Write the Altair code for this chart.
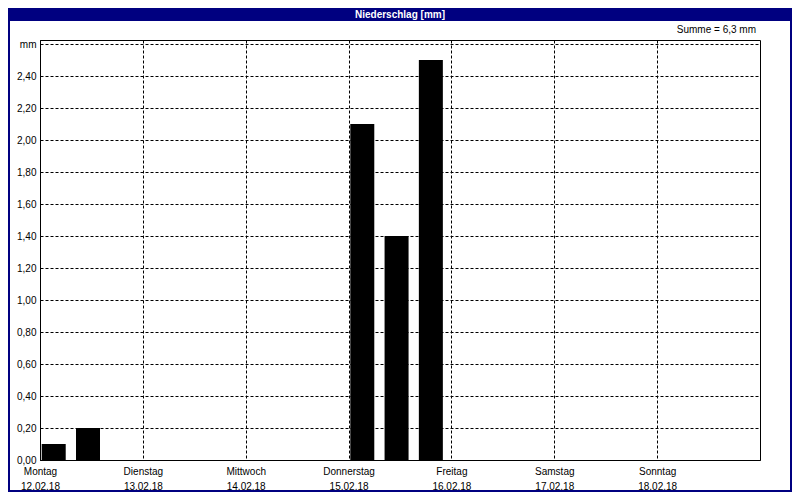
import json
import altair as alt
import pandas as pd

# ---- data ----
bin_start_hours = [0, 8, 72, 80, 88]
values = [0.1, 0.2, 2.1, 1.4, 2.5]
days = ["Montag", "Dienstag", "Mittwoch", "Donnerstag", "Freitag", "Samstag", "Sonntag"]
dates = ["12.02.18", "13.02.18", "14.02.18", "15.02.18", "16.02.18", "17.02.18", "18.02.18"]
y_ticks = [0.0, 0.2, 0.4, 0.6, 0.8, 1.0, 1.2, 1.4, 1.6, 1.8, 2.0, 2.2, 2.4, 2.6]
title_text = "Niederschlag [mm]"

total = sum(values)
summe_text = "Summe = " + f"{total:.1f}".replace(".", ",") + " mm"

df = pd.DataFrame({
    "start": [h + 0.4 for h in bin_start_hours],
    "end": [h + 6.0 for h in bin_start_hours],
    "value": values,
})

FONT = "Liberation Sans"
NAVY = "#000080"

x_ticks = [24 * i for i in range(len(days))]
label_expr_x = (
    "[" + json.dumps(days) + "[round(datum.value/24)], "
    + json.dumps(dates) + "[round(datum.value/24)]]"
)
label_expr_y = "datum.value > 2.55 ? 'mm' : replace(format(datum.value, '.2f'), '.', ',')"

x_scale = alt.Scale(domain=[0, 168], nice=False, zero=False)
y_scale = alt.Scale(domain=[0, 2.625], nice=False)

bars = alt.Chart(df).mark_rect(color="#000000").encode(
    x=alt.X("start:Q", scale=x_scale, axis=alt.Axis(
        values=x_ticks, labelExpr=label_expr_x, title=None, grid=True,
        gridDash=[3, 2], gridColor="#000000", gridOpacity=1, gridWidth=1,
        ticks=False, labelFlush=False, labelOverlap=False, labelPadding=6,
        labelLineHeight=15, labelFont=FONT, labelFontSize=10, labelColor="#000000",
        domainColor="#000000", domainWidth=1, labelBaseline="top",
    )),
    x2="end:Q",
    y=alt.Y("value:Q", scale=y_scale, axis=alt.Axis(
        values=y_ticks, labelExpr=label_expr_y, title=None, grid=True,
        gridDash=[3, 2], gridColor="#000000", gridOpacity=1, gridWidth=1,
        ticks=False, labelPadding=4, labelFont=FONT, labelFontSize=10,
        labelColor="#000000", domainColor="#000000", domainWidth=1,
        labelFlush=False, labelOverlap=False,
    )),
    y2=alt.datum(0),
)

text_df = pd.DataFrame({"t": [title_text], "s": [summe_text]})

title_bar = alt.Chart(text_df).mark_rect(color=NAVY, clip=False).encode(
    x=alt.value(-32), x2=alt.value(752), y=alt.value(-32), y2=alt.value(-19)
)
title_txt = alt.Chart(text_df).mark_text(
    font=FONT, fontSize=10, fontWeight="bold", color="#ffffff",
    align="center", baseline="middle", clip=False
).encode(x=alt.value(360), y=alt.value(-25), text="t:N")

summe_txt = alt.Chart(text_df).mark_text(
    font=FONT, fontSize=10, color="#000000", align="right", baseline="middle", clip=False
).encode(x=alt.value(716), y=alt.value(-10), text="s:N")

border = alt.Chart(text_df).mark_rect(
    fill="transparent", stroke=NAVY, strokeWidth=2, clip=False
).encode(x=alt.value(-31), x2=alt.value(751), y=alt.value(-31), y2=alt.value(451))

chart = alt.layer(bars, title_bar, title_txt, summe_txt, border).properties(
    width=720, height=420,
    autosize=alt.AutoSizeParams(type="none"),
    padding={"left": 32, "top": 32, "right": 32, "bottom": 32},
    background="#ffffff",
).configure_view(stroke="#000000", strokeWidth=1)

chart.save("out.html", embed_options={"renderer": "svg", "actions": False})
